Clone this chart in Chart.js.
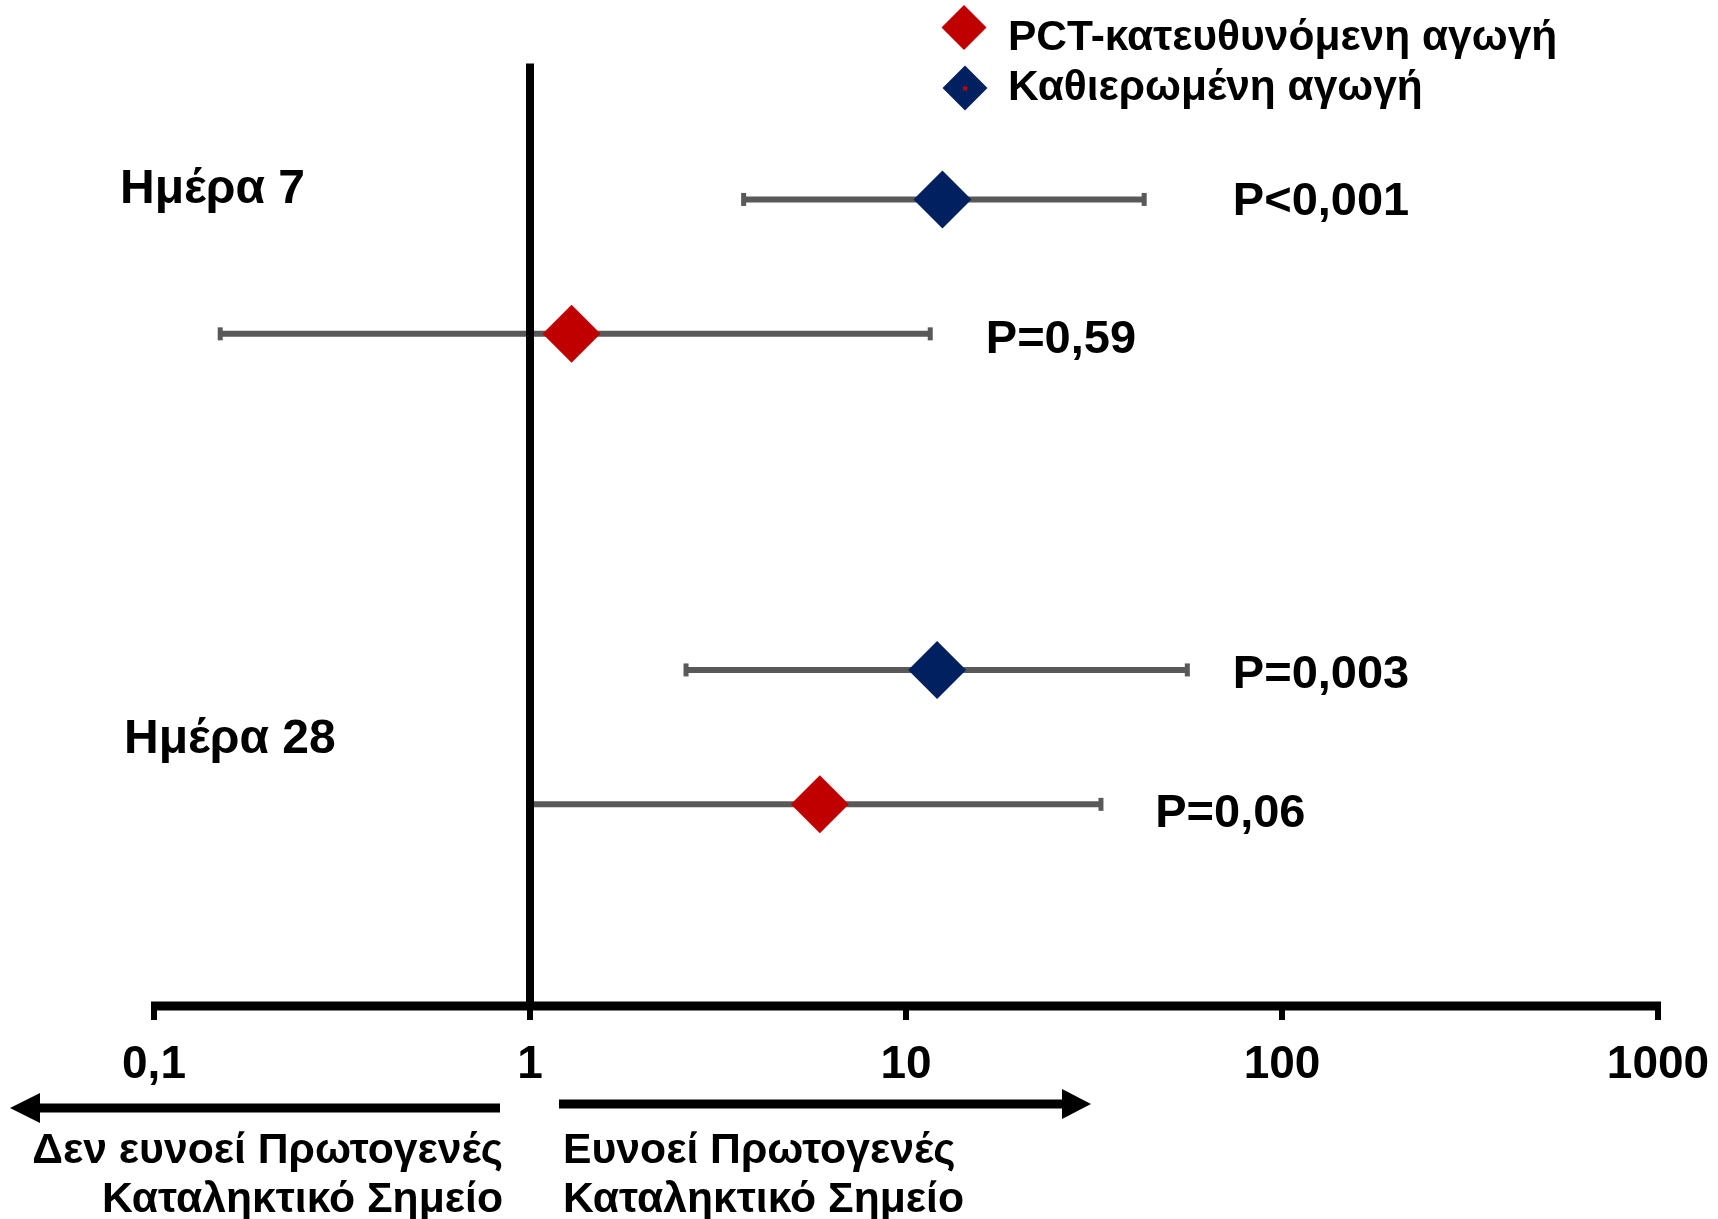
<!DOCTYPE html>
<html>
<head>
<meta charset="utf-8">
<script src="https://cdn.jsdelivr.net/npm/chart.js@4/dist/chart.umd.min.js"></script>
<style>
html,body{margin:0;padding:0;background:#fff;}
#wrap{width:1718px;height:1219px;position:relative;}
</style>
</head>
<body>
<div id="wrap"><canvas id="c" width="1718" height="1219"></canvas></div>
<script>
// ---- data ----
const seriesNames = ['PCT-κατευθυνόμενη αγωγή', 'Καθιερωμένη αγωγή'];
const groupLabels = ['Ημέρα 7', 'Ημέρα 28'];
// odds ratios with 95% CI (per group: day 7, day 28)
const pctOR   = [1.29, 5.9];
const pctLow  = [0.15, 1.0];
const pctHigh = [11.6, 33];
const pctP    = ['P=0,59', 'P=0,06'];
const stdOR   = [12.5, 12.1];
const stdLow  = [3.7, 2.6];
const stdHigh = [43, 56];
const stdP    = ['P<0,001', 'P=0,003'];
const xTickValues = [0.1, 1, 10, 100, 1000];
const xTickLabels = ['0,1', '1', '10', '100', '1000'];
const leftNote  = ['Δεν ευνοεί Πρωτογενές', 'Καταληκτικό Σημείο'];
const rightNote = ['Ευνοεί Πρωτογενές', 'Καταληκτικό Σημείο'];

// ---- layout (row slots on the vertical scale, label anchors) ----
const stdRow = [6, 2.5];
const pctRow = [5, 1.5];
const pLabelX = { std: [74, 74], pct: [16.3, 46] };
const pLabelY = { std: [5.884, 2.365], pct: [4.857, 1.332] };

const RED = '#C00000', BLUE = '#002060', GRAY = '#595959';
const FONT = '"Liberation Sans", Arial, sans-serif';

function mkData(or, lo, hi, rows, p) {
  return or.map((v, i) => ({ x: v, y: rows[i], lo: lo[i], hi: hi[i], p: p[i] }));
}

function diamond(ctx, x, y, r, color) {
  ctx.beginPath();
  ctx.moveTo(x - r, y); ctx.lineTo(x, y - r); ctx.lineTo(x + r, y); ctx.lineTo(x, y + r);
  ctx.closePath(); ctx.fillStyle = color; ctx.fill();
}

const decor = {
  id: 'decor',
  beforeDatasetsDraw(chart) {
    const ctx = chart.ctx, xs = chart.scales.x, ys = chart.scales.y, ca = chart.chartArea;
    ctx.save();
    // error bars
    chart.data.datasets.forEach(ds => {
      ds.data.forEach(d => {
        const y = ys.getPixelForValue(d.y);
        const x0 = xs.getPixelForValue(d.lo), x1 = xs.getPixelForValue(d.hi);
        ctx.strokeStyle = GRAY; ctx.lineWidth = 6; ctx.lineCap = 'butt';
        ctx.beginPath(); ctx.moveTo(x0, y); ctx.lineTo(x1, y); ctx.stroke();
        ctx.fillStyle = GRAY;
        ctx.fillRect(x0 - 2.5, y - 6.5, 5, 13);
        ctx.fillRect(x1 - 2.5, y - 6.5, 5, 13);
      });
    });
    // axis line
    const axisY = ys.getPixelForValue(0);
    const xa = xs.getPixelForValue(xTickValues[0]), xb = xs.getPixelForValue(xTickValues[xTickValues.length - 1]);
    ctx.fillStyle = '#000';
    ctx.fillRect(xa - 3, axisY - 4.5, xb - xa + 6, 9);
    // ticks + labels
    ctx.font = 'bold 46px ' + FONT;
    ctx.textAlign = 'center'; ctx.textBaseline = 'alphabetic';
    xTickValues.forEach((v, i) => {
      const px = xs.getPixelForValue(v);
      ctx.fillRect(px - 3, axisY - 1, 6, 15);
      ctx.fillText(xTickLabels[i], px, 1078);
    });
    // reference line at 1
    const x1p = xs.getPixelForValue(1);
    ctx.fillRect(x1p - 4, ca.top - 1.5, 8, axisY - ca.top + 1.5);
    // group labels
    ctx.textAlign = 'left';
    ctx.font = 'bold 48px ' + FONT;
    ctx.fillText(groupLabels[0], 120, 203);
    ctx.fillText(groupLabels[1], 124, 753);
    // p-values
    ctx.font = 'bold 47px ' + FONT;
    chart.data.datasets.forEach((ds, di) => {
      const key = di === 0 ? 'pct' : 'std';
      ds.data.forEach((d, i) => {
        const px = xs.getPixelForValue(pLabelX[key][i]);
        const py = ys.getPixelForValue(pLabelY[key][i]);
        ctx.fillText(d.p, px, py);
      });
    });
    // legend
    ctx.font = 'bold 42.5px ' + FONT;
    diamond(ctx, 964, 27.5, 22.5, RED);
    diamond(ctx, 965, 88, 22.5, BLUE);
    ctx.fillStyle = RED; ctx.fillRect(963, 86.5, 4, 4);
    ctx.fillStyle = '#000';
    ctx.fillText(seriesNames[0], 1008, 50);
    ctx.fillText(seriesNames[1], 1008, 100);
    // arrows
    ctx.fillRect(38, 1103.5, 462, 9);
    ctx.beginPath(); ctx.moveTo(10, 1108); ctx.lineTo(40, 1093); ctx.lineTo(40, 1123); ctx.closePath(); ctx.fill();
    ctx.fillRect(559, 1099.5, 506, 9);
    ctx.beginPath(); ctx.moveTo(1091, 1104); ctx.lineTo(1062, 1089); ctx.lineTo(1062, 1119); ctx.closePath(); ctx.fill();
    // notes
    ctx.font = 'bold 42.7px ' + FONT;
    ctx.textAlign = 'right';
    ctx.fillText(leftNote[0], 503, 1163);
    ctx.fillText(leftNote[1], 503, 1212);
    ctx.textAlign = 'left';
    ctx.fillText(rightNote[0], 563, 1163);
    ctx.fillText(rightNote[1], 563, 1212);
    ctx.restore();
  }
};

new Chart(document.getElementById('c'), {
  type: 'scatter',
  data: {
    datasets: [
      { label: seriesNames[0], data: mkData(pctOR, pctLow, pctHigh, pctRow, pctP),
        backgroundColor: RED, borderColor: RED, borderWidth: 0, pointStyle: 'rectRot', pointRadius: 29, pointHoverRadius: 29 },
      { label: seriesNames[1], data: mkData(stdOR, stdLow, stdHigh, stdRow, stdP),
        backgroundColor: BLUE, borderColor: BLUE, borderWidth: 0, pointStyle: 'rectRot', pointRadius: 29, pointHoverRadius: 29 }
    ]
  },
  options: {
    responsive: false, animation: false, devicePixelRatio: 1,
    layout: { padding: { left: 154, right: 60, top: 65, bottom: 213 } },
    plugins: { legend: { display: false }, tooltip: { enabled: false } },
    scales: {
      x: { type: 'logarithmic', min: 0.1, max: 1000, display: false },
      y: { type: 'linear', min: 0, max: 7, display: false }
    }
  },
  plugins: [decor]
});
</script>
</body>
</html>
